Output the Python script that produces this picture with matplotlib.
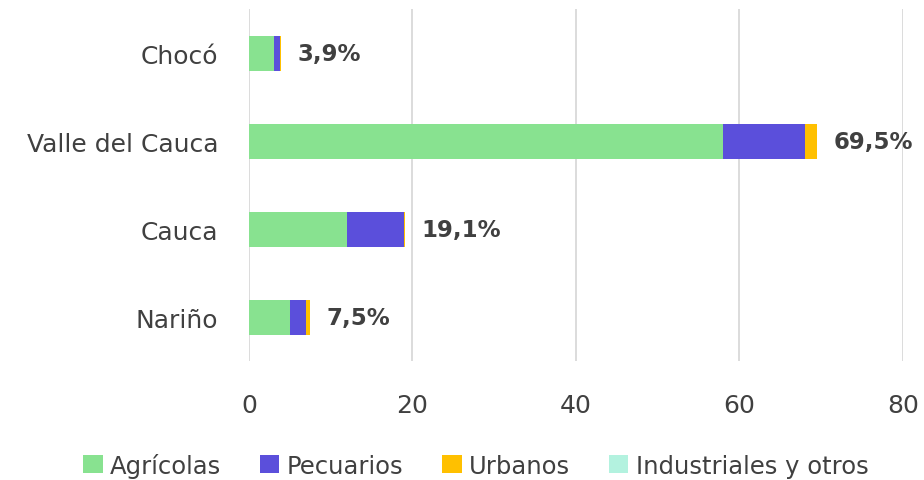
import matplotlib.pyplot as plt
import numpy as np

plt.rcParams['font.family'] = ['DejaVu Sans']

departamentos = ["Chocó", "Valle del Cauca", "Cauca", "Nariño"]
agricolas = [3.0, 58.0, 12.0, 5.0]
pecuarios = [0.8, 10.0, 7.0, 2.0]
urbanos = [0.1, 1.5, 0.1, 0.5]
industriales = [0.0, 0.0, 0.0, 0.0]
totales = ["3,9%", "69,5%", "19,1%", "7,5%"]

series = [("Agrícolas", agricolas, "#88E290"),
          ("Pecuarios", pecuarios, "#5B4FDB"),
          ("Urbanos", urbanos, "#FFC000"),
          ("Industriales y otros", industriales, "#B3F2DF")]

fig = plt.figure(figsize=(9.24, 4.81), dpi=100)
ax = fig.add_axes([0.2695, 0.247, 0.7075, 0.732])

y = np.arange(len(departamentos))
left = np.zeros(len(departamentos))
for name, vals, color in series:
    ax.barh(y, vals, left=left, height=0.4, color=color, label=name, zorder=3)
    left += np.array(vals)

for yi, tot, lab in zip(y, left, totales):
    ax.text(tot + 2, yi, lab, va='center', ha='left', fontsize=16.5,
            fontweight='bold', color='#404040', zorder=4)

ax.set_ylim(3.5, -0.5)
ax.set_xlim(0, 80)
ax.set_xticks([0, 20, 40, 60, 80])
ax.set_yticks(y)
ax.set_yticklabels(departamentos)
ax.grid(axis='x', color='#D9D9D9', linewidth=1.3, zorder=0)
for s in ax.spines.values():
    s.set_visible(False)
ax.tick_params(axis='both', length=0, labelsize=18, labelcolor='#404040')
ax.tick_params(axis='y', pad=22)
ax.tick_params(axis='x', pad=23)

fig.legend(loc='center', bbox_to_anchor=(0.515, 0.031), ncol=4, frameon=False,
           fontsize=17.5, labelcolor='#404040', handlelength=0.8, handleheight=0.8,
           handletextpad=0.3, columnspacing=1.6)

plt.savefig("out.png", dpi=100)
